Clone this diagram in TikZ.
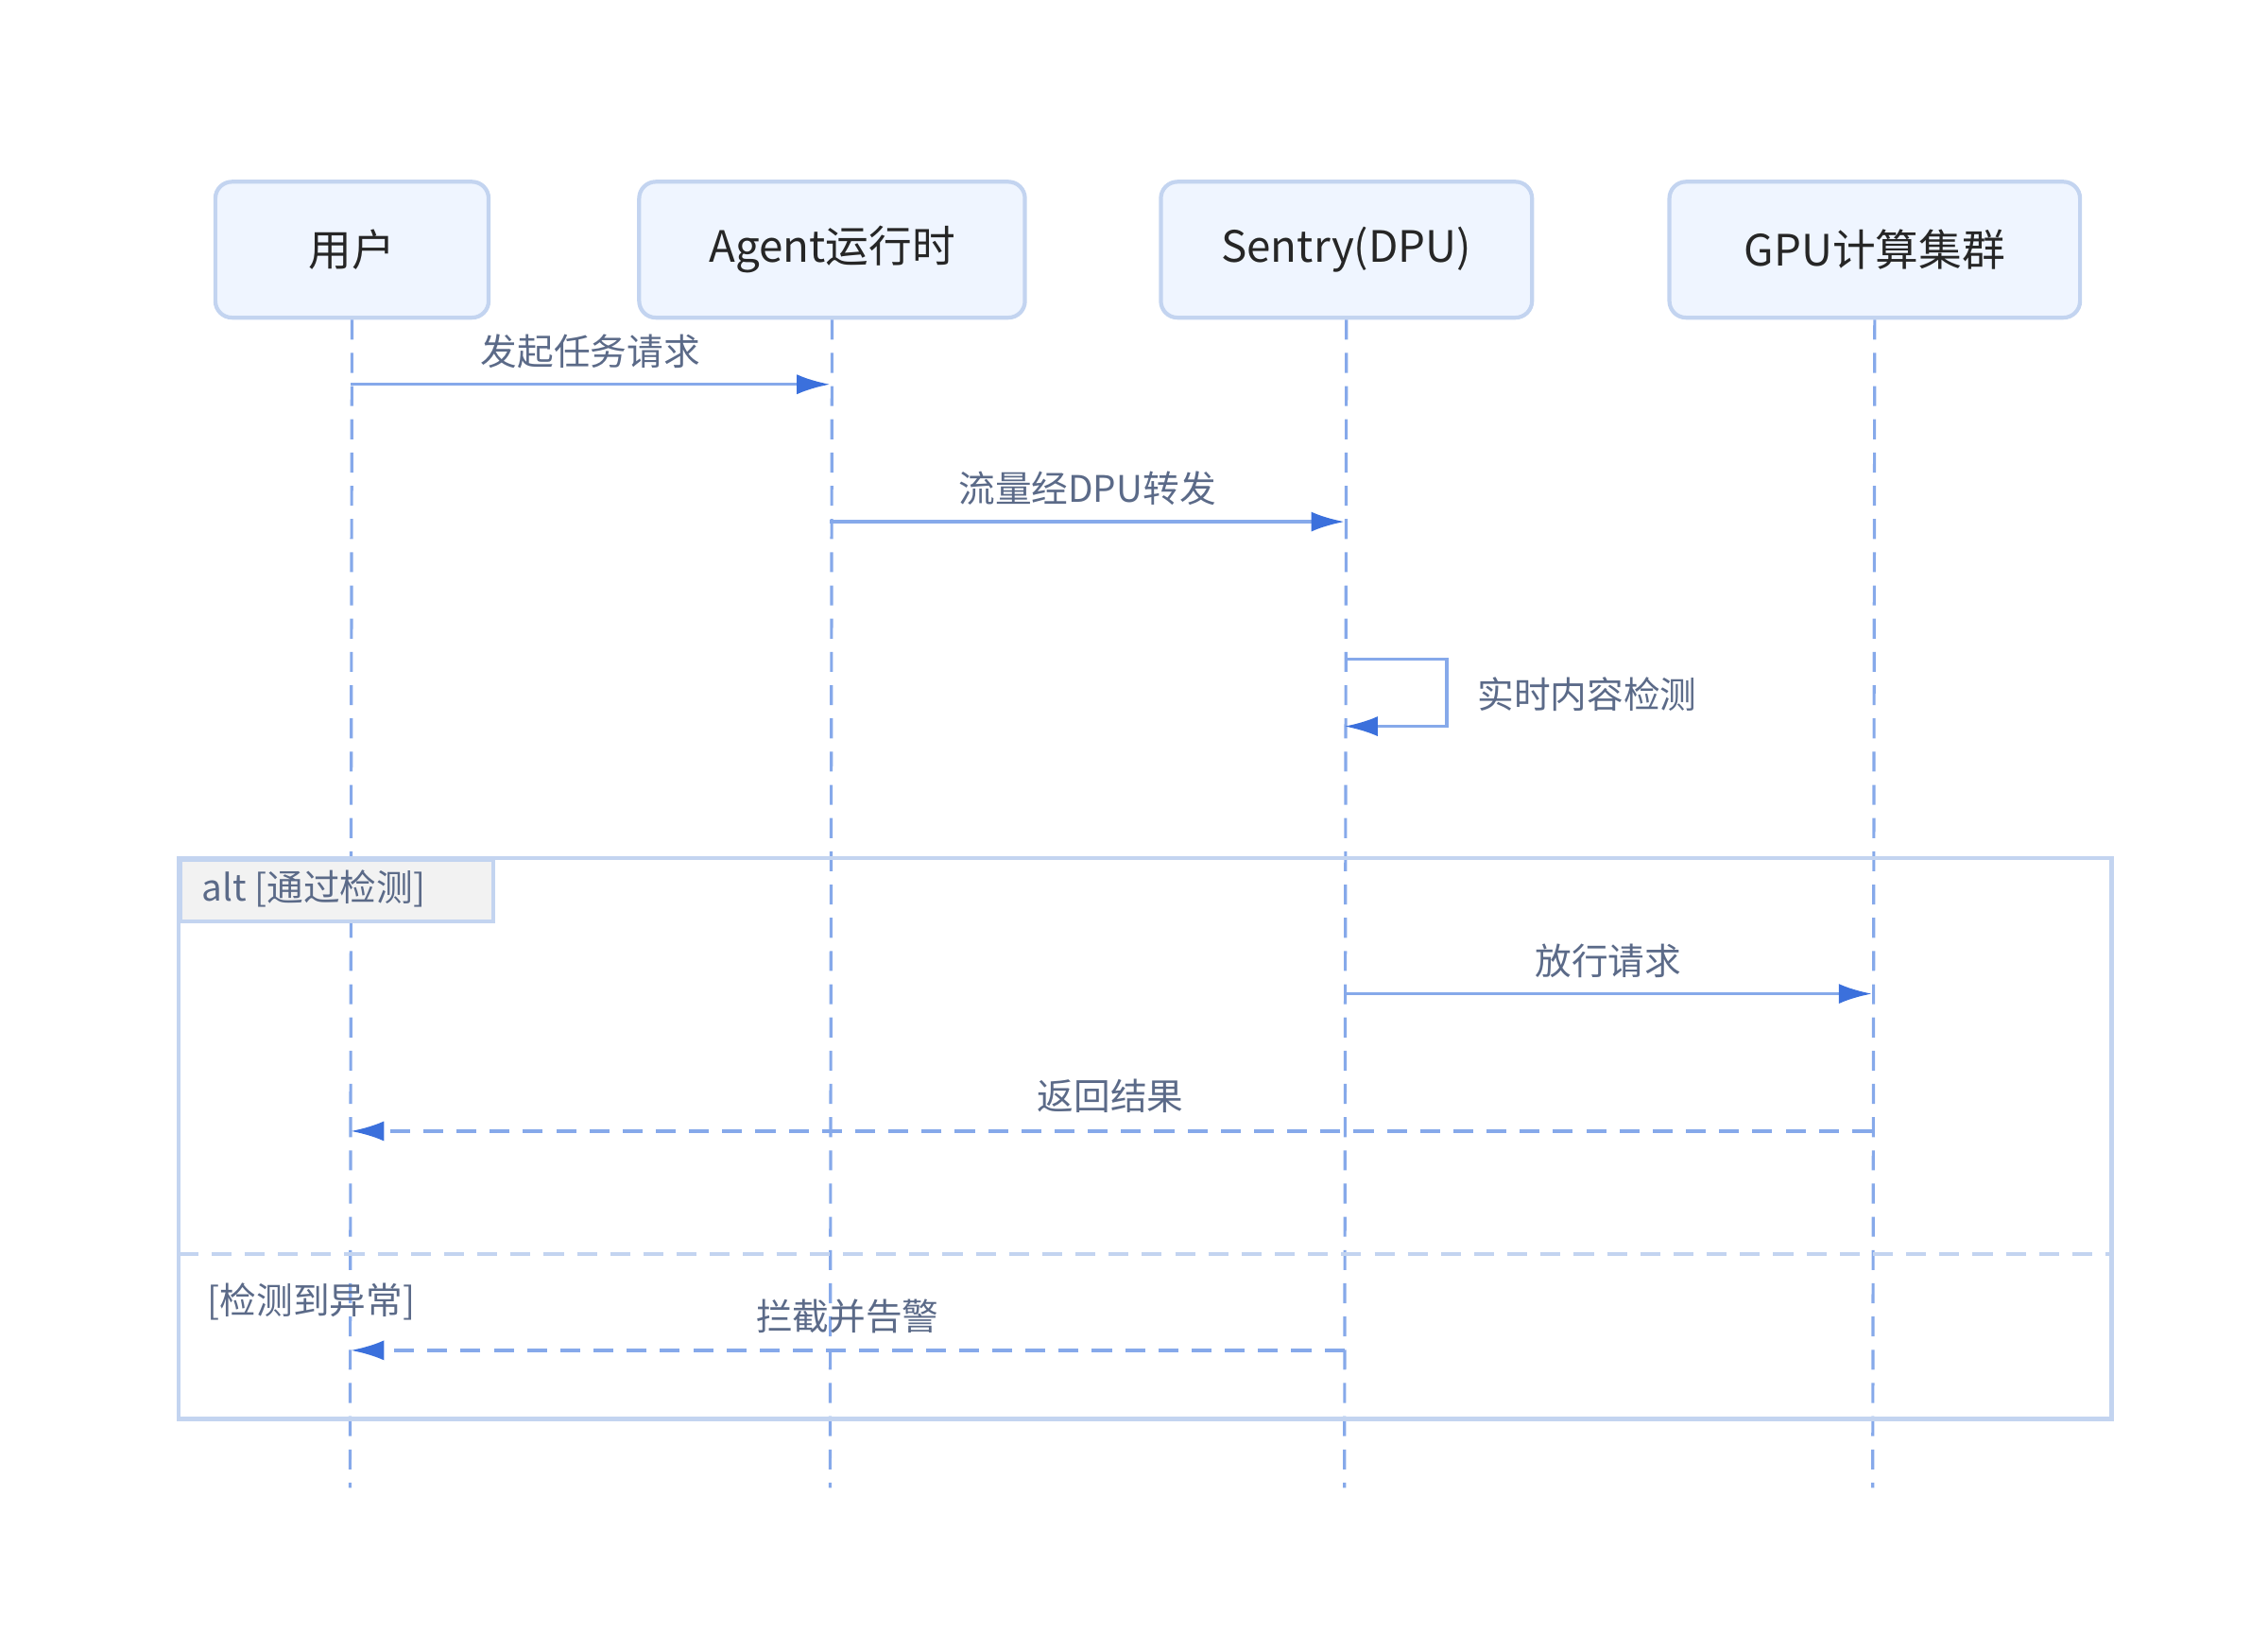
\documentclass[tikz,border=0pt]{standalone}
\usepackage{fontspec}
\setmainfont{Noto Sans CJK SC}
\usetikzlibrary{arrows.meta}
\definecolor{boxfill}{HTML}{EFF5FF}
\definecolor{boxline}{HTML}{C3D4F0}
\definecolor{life}{HTML}{86A9EA}
\definecolor{arr}{HTML}{3B70DC}
\definecolor{lbl}{HTML}{5B6A88}
\definecolor{tabfill}{HTML}{F2F2F2}
\begin{document}
\begin{tikzpicture}[x=0.01546cm,y=-0.01546cm,
 actor/.style={draw=boxline,line width=1.2pt,fill=boxfill,rounded corners=5pt,font=\fontsize{13}{15}\selectfont,text=black!85},
 lifeline/.style={draw=life,line width=0.9pt,dash pattern=on 6pt off 4pt},
 msg/.style={draw=life,line width=1pt,-{Latex[length=10pt,width=6pt,color=arr]}},
 ret/.style={msg,dash pattern=on 6pt off 4pt},
 lab/.style={font=\fontsize{11}{13}\selectfont,text=lbl},
 frame/.style={draw=boxline,line width=1.2pt}]
\useasboundingbox (0,0) rectangle (1552,1129);
\foreach \n/\xa/\xb/\t in {u/146/333/用户,a/436/700/Agent运行时,s/793/1047/Sentry(DPU),g/1141/1422/GPU计算集群}{
 \node[actor,minimum width={(\xb-\xa)*0.01546cm},minimum height={93*0.01546cm},anchor=north west] (\n) at (\xa,123) {\t};
 \coordinate (\n b) at ({(\xa+\xb)/2},1018);
 \draw[lifeline] (\n.south) -- (\n b);
}
\coordinate (u1) at (240,263); \coordinate (a1) at (568,263);
\draw[msg] (u1) -- node[lab,above=1pt] {发起任务请求} (a1);
\coordinate (a2) at (568,357); \coordinate (s2) at (920,357);
\draw[msg] (a2) -- node[lab,above=1pt] {流量经DPU转发} (s2);
\coordinate (s3) at (920,451); \coordinate (s4) at (920,497);
\draw[msg] (s3) -- (990,451) -- (990,497) -- (s4);
\node[lab,anchor=west] (sl) at (1003,475) {实时内容检测};
\draw[frame] (122,587) rectangle (1445,971);
\node[frame,fill=tabfill,anchor=north west,minimum width={214*0.01546cm},minimum height={42*0.01546cm},inner sep=0pt] (tab) at (122,587) {};
\node[lab,anchor=west] (tabt) at (130,608) {alt [通过检测]};
\coordinate (s5) at (920,680); \coordinate (g5) at (1281,680);
\draw[msg] (s5) -- node[lab,above=1pt] {放行请求} (g5);
\coordinate (g6) at (1281,774); \coordinate (u6) at (240,774);
\draw[ret] (g6) -- (u6);
\node[lab] (l6) at (760,750) {返回结果};
\draw[frame,dash pattern=on 6pt off 4pt] (122,858) -- (1445,858);
\node[lab,anchor=west] (el) at (134,891) {[检测到异常]};
\coordinate (s7) at (920,924); \coordinate (u7) at (240,924);
\draw[ret] (s7) -- (u7);
\node[lab] (l7) at (580,901) {拦截并告警};
\end{tikzpicture}
\end{document}
